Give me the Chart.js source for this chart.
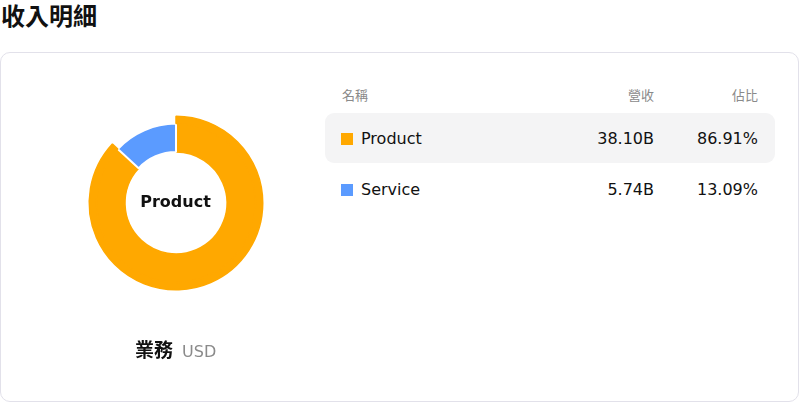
<!DOCTYPE html>
<html>
<head>
<meta charset="utf-8">
<script src="https://cdn.jsdelivr.net/npm/chart.js@4.4.1/dist/chart.umd.min.js"></script>
<style>
  body {
    margin: 0;
    width: 800px;
    height: 402px;
    overflow: hidden;
    background: #fff;
    font-family: "DejaVu Sans", "Noto Sans CJK TC", sans-serif;
    color: #111;
    position: relative;
  }
  .title {
    position: absolute;
    left: 1px;
    top: 3px;
    font-family: "Noto Sans CJK TC", sans-serif;
    font-size: 24px;
    font-weight: 700;
    line-height: 24px;
  }
  .card {
    position: absolute;
    left: 0;
    top: 52px;
    width: 797px;
    height: 348px;
    border: 1px solid #e2e1ea;
    border-radius: 10px;
  }
  .chartbox {
    position: absolute;
    left: 75.5px;
    top: 103px;
    width: 200px;
    height: 200px;
  }
  .center {
    position: absolute;
    left: 75.5px;
    top: 103px;
    width: 200px;
    height: 200px;
    line-height: 198px;
    text-align: center;
    font-size: 16px;
    font-weight: 700;
  }
  .caption {
    position: absolute;
    left: 135px;
    top: 335px;
    font-size: 19px;
    font-weight: 700;
    font-family: "Noto Sans CJK TC", sans-serif;
  }
  .caption span {
    font-family: "DejaVu Sans", sans-serif;
    font-weight: 400;
    font-size: 16px;
    color: #8a8a8a;
    margin-left: 9px;
  }
  .head {
    position: absolute;
    top: 85px;
    font-size: 13px;
    color: #8a8a8a;
    font-family: "Noto Sans CJK TC", sans-serif;
  }
  .row {
    position: absolute;
    left: 325px;
    width: 450px;
    height: 50px;
    border-radius: 9px;
  }
  .row.hl { background: #f4f4f5; }
  .row .sw {
    position: absolute;
    left: 16px;
    top: 20px;
    width: 12px;
    height: 12px;
  }
  .row .nm, .row .v1, .row .v2 {
    position: absolute;
    top: 1px;
    line-height: 50px;
    font-size: 16px;
  }
  .row .nm { left: 36px; }
  .row .v1 { right: 121px; text-align: right; }
  .row .v2 { right: 17px; text-align: right; }
</style>
</head>
<body>
<div class="title">收入明細</div>
<div class="card"></div>
<div class="chartbox"><canvas id="myChart"></canvas></div>
<div class="center" id="centerLabel"></div>
<div class="caption">業務<span>USD</span></div>
<div class="head" style="left:342px">名稱</div>
<div class="head" style="right:146px">營收</div>
<div class="head" style="right:42px">佔比</div>
<div id="rows"></div>

<script>
var segments = ["Product", "Service"];
var revenue = [38.10, 5.74]; // billions USD
var shares = [86.91, 13.09];
var colors = ["#FFA800", "#5B9BFF"];
var activeIndex = 0;

document.getElementById("centerLabel").textContent = segments[activeIndex];

// table rows
const rowsBox = document.getElementById("rows");
segments.forEach((name, i) => {
  let row = document.createElement("div");
  row.className = "row" + (i === activeIndex ? " hl" : "");
  row.style.top = (113 + i * 51) + "px";
  row.innerHTML =
    '<div class="sw" style="background:' + colors[i] + '"></div>' +
    '<div class="nm">' + name + '</div>' +
    '<div class="v1">' + revenue[i].toFixed(2) + 'B</div>' +
    '<div class="v2">' + shares[i].toFixed(2) + '%</div>';
  rowsBox.appendChild(row);
});

// outer thin ring only shows the active slice, so it looks "popped out"
const outerColors = colors.map((c, i) => (i === activeIndex ? c : "rgba(0,0,0,0)"));
const outerWidths = colors.map((c, i) => (i === activeIndex ? 1.5 : 0));
// same-colour border on the active slice hides the seam between the rings
const innerBorders = colors.map((c, i) => (i === activeIndex ? c : "#ffffff"));

const ctx = document.getElementById("myChart").getContext("2d");
const myChart = new Chart(ctx, {
  type: "doughnut",
  data: {
    labels: segments,
    datasets: [
      {
        data: revenue,
        backgroundColor: outerColors,
        borderColor: outerColors,
        borderWidth: outerWidths,
        weight: 7.5,
      },
      {
        data: revenue,
        backgroundColor: colors,
        borderColor: innerBorders,
        borderWidth: [1.5, 2],
        weight: 29,
      },
    ],
  },
  options: {
    responsive: true,
    maintainAspectRatio: false,
    animation: false,
    events: [],
    cutout: 51,
    hoverOffset: 0,
    offset: 0,
    layout: { padding: 12.5 },
    plugins: {
      legend: { display: false },
      tooltip: { enabled: false },
    },
  },
});
</script>
</body>
</html>
